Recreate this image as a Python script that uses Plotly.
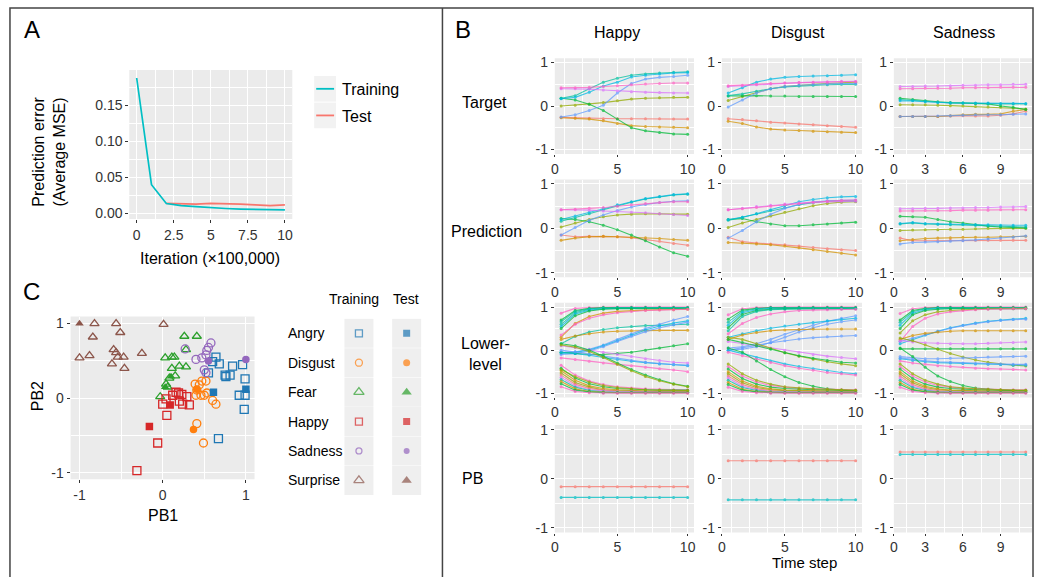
import plotly.graph_objects as go

W, H = 1037, 577
FONT = "Liberation Sans, Arial, sans-serif"
PANEL_BG = "#EBEBEB"
TICK_COLOR = "#333333"

# ---------------- Panel A data ----------------
ITER = [0, 1, 2, 3, 4, 5, 6, 7, 8, 9, 10]
TRAIN_ERR = [0.188, 0.040, 0.014, 0.011, 0.0095, 0.008, 0.007, 0.0062, 0.0056, 0.0052, 0.005]
TEST_ITER = [2, 3, 4, 5, 6, 7, 8, 9, 10]
TEST_ERR = [0.014, 0.013, 0.013, 0.014, 0.014, 0.013, 0.012, 0.011, 0.012]
A_XTICKS = [0, 2.5, 5, 7.5, 10]
A_XTICKTEXT = ["0", "2.5", "5", "7.5", "10"]
A_YTICKS = [0, 0.05, 0.10, 0.15]
A_YTICKTEXT = ["0.00", "0.05", "0.10", "0.15"]

# ---------------- Panel C data ----------------
EMOTIONS = ["Angry", "Disgust", "Fear", "Happy", "Sadness", "Surprise"]
ANGRY_TRAIN_X = [0.64, 0.60, 0.68, 0.84, 0.96, 0.75, 0.81, 0.76, 0.55, 0.99, 0.92, 0.99, 0.98, 0.67]
ANGRY_TRAIN_Y = [0.55, 0.49, 0.46, 0.43, 0.45, 0.31, 0.31, 0.29, 0.34, 0.26, 0.04, 0.04, -0.15, -0.54]
ANGRY_TEST_X = [0.61, 1.00]
ANGRY_TEST_Y = [0.08, 0.12]
DISGUST_TRAIN_X = [0.39, 0.47, 0.52, 0.44, 0.41, 0.40, 0.46, 0.50, 0.53, 0.60, 0.64, 0.41, 0.49]
DISGUST_TRAIN_Y = [0.19, 0.23, 0.23, 0.18, 0.11, 0.04, 0.04, 0.04, 0.07, -0.03, -0.08, -0.34, -0.60]
DISGUST_TEST_X = [0.41, 0.37]
DISGUST_TEST_Y = [0.12, -0.42]
FEAR_TRAIN_X = [0.26, 0.41, 0.28, 0.03, 0.11, 0.14, 0.20, 0.28, 0.11, 0.15, 0.08, 0.04, 0.06, -0.03]
FEAR_TRAIN_Y = [0.83, 0.83, 0.65, 0.54, 0.55, 0.55, 0.43, 0.42, 0.40, 0.30, 0.27, 0.19, 0.15, 0.02]
FEAR_TEST_X = [0.10, 0.03]
FEAR_TEST_Y = [0.29, 0.15]
HAPPY_TRAIN_X = [0.16, 0.19, 0.23, 0.29, 0.12, 0.04, 0.00, 0.20, 0.24, 0.32, 0.05, -0.06, -0.31]
HAPPY_TRAIN_Y = [0.08, 0.07, 0.05, 0.02, 0.04, -0.01, -0.08, -0.04, -0.08, -0.09, -0.23, -0.60, -0.97]
HAPPY_TEST_X = [0.09, -0.16]
HAPPY_TEST_Y = [-0.09, -0.38]
SADNESS_TRAIN_X = [0.58, 0.55, 0.53, 0.52, 0.40, 0.47, 0.50, 0.52, 0.27]
SADNESS_TRAIN_Y = [0.74, 0.68, 0.64, 0.58, 0.52, 0.54, 0.38, 0.34, 0.66]
SADNESS_TEST_X = [0.55, 1.00]
SADNESS_TEST_Y = [0.50, 0.52]
SURPRISE_TRAIN_X = [-0.82, -0.56, 0.01, -0.84, -0.51, -1.00, -0.88, -0.59, -0.56, -0.54, -0.47, -0.61, -0.46, -0.25]
SURPRISE_TRAIN_Y = [1.00, 1.00, 0.99, 0.82, 0.88, 0.54, 0.57, 0.65, 0.61, 0.55, 0.55, 0.46, 0.40, 0.60]
SURPRISE_TEST_X = [-1.00]
SURPRISE_TEST_Y = [1.00]
C_TICKS = [-1, 0, 1]
C_TICKTEXT = ["-1", "0", "1"]

# ---------------- Panel B data ----------------
COLUMNS = ["Happy", "Disgust", "Sadness"]
ROWS = ["Target", "Prediction", "Lower-level", "PB"]
T10 = [1, 2, 3, 4, 5, 6, 7, 8, 9, 10]
T11 = [1, 2, 3, 4, 5, 6, 7, 8, 9, 10, 11]

# order of series: salmon, orange, olive, green, teal, cyan, blue, magenta, pink
HAPPY_TARGET = [
    [-0.26, -0.27, -0.28, -0.29, -0.29, -0.29, -0.29, -0.29, -0.30, -0.30],
    [-0.27, -0.28, -0.30, -0.34, -0.40, -0.45, -0.47, -0.48, -0.49, -0.50],
    [0.00, 0.02, 0.05, 0.08, 0.12, 0.16, 0.18, 0.19, 0.20, 0.20],
    [0.18, 0.14, 0.04, -0.10, -0.30, -0.50, -0.57, -0.61, -0.64, -0.65],
    [0.18, 0.24, 0.40, 0.55, 0.64, 0.71, 0.74, 0.76, 0.78, 0.79],
    [0.17, 0.20, 0.32, 0.46, 0.55, 0.67, 0.71, 0.74, 0.76, 0.77],
    [-0.25, -0.20, -0.10, 0.02, 0.30, 0.52, 0.62, 0.66, 0.68, 0.71],
    [0.40, 0.40, 0.39, 0.37, 0.35, 0.33, 0.32, 0.31, 0.30, 0.30],
    [0.42, 0.42, 0.43, 0.45, 0.47, 0.49, 0.51, 0.52, 0.53, 0.53],
]
DISGUST_TARGET = [
    [-0.29, -0.31, -0.34, -0.37, -0.39, -0.41, -0.43, -0.45, -0.47, -0.49],
    [-0.35, -0.40, -0.48, -0.53, -0.55, -0.56, -0.58, -0.59, -0.60, -0.61],
    [0.13, 0.22, 0.32, 0.40, 0.45, 0.48, 0.50, 0.52, 0.54, 0.55],
    [0.23, 0.24, 0.24, 0.23, 0.23, 0.22, 0.22, 0.22, 0.22, 0.22],
    [0.24, 0.28, 0.34, 0.40, 0.44, 0.46, 0.48, 0.49, 0.50, 0.50],
    [0.30, 0.42, 0.55, 0.62, 0.66, 0.68, 0.69, 0.70, 0.71, 0.72],
    [-0.02, 0.14, 0.30, 0.40, 0.45, 0.48, 0.50, 0.51, 0.52, 0.52],
    [0.45, 0.47, 0.49, 0.51, 0.53, 0.54, 0.55, 0.56, 0.57, 0.57],
    [0.47, 0.48, 0.50, 0.52, 0.53, 0.54, 0.55, 0.55, 0.56, 0.56],
]
SADNESS_TARGET = [
    [-0.24, -0.24, -0.24, -0.24, -0.23, -0.22, -0.23, -0.23, -0.21, -0.18, -0.12],
    [-0.24, -0.24, -0.24, -0.24, -0.22, -0.20, -0.19, -0.19, -0.18, -0.12, -0.08],
    [0.03, 0.03, 0.03, 0.02, 0.01, 0.00, -0.01, -0.02, -0.03, -0.05, -0.07],
    [0.18, 0.15, 0.12, 0.10, 0.08, 0.07, 0.06, 0.05, 0.00, -0.03, -0.08],
    [0.15, 0.13, 0.11, 0.09, 0.07, 0.07, 0.06, 0.06, 0.05, 0.05, 0.05],
    [0.12, 0.12, 0.10, 0.08, 0.07, 0.07, 0.07, 0.07, 0.06, 0.06, 0.06],
    [-0.24, -0.24, -0.24, -0.23, -0.22, -0.21, -0.20, -0.20, -0.20, -0.19, -0.18],
    [0.45, 0.45, 0.46, 0.46, 0.47, 0.48, 0.48, 0.49, 0.49, 0.50, 0.50],
    [0.40, 0.40, 0.41, 0.41, 0.41, 0.42, 0.42, 0.42, 0.43, 0.43, 0.43],
]
HAPPY_PRED = [
    [-0.15, -0.19, -0.18, -0.18, -0.19, -0.21, -0.25, -0.29, -0.34, -0.38],
    [-0.27, -0.22, -0.19, -0.18, -0.19, -0.20, -0.21, -0.23, -0.25, -0.27],
    [0.03, 0.12, 0.20, 0.26, 0.30, 0.32, 0.33, 0.33, 0.32, 0.32],
    [0.22, 0.20, 0.15, 0.07, -0.03, -0.15, -0.28, -0.42, -0.55, -0.63],
    [0.16, 0.24, 0.33, 0.42, 0.51, 0.59, 0.66, 0.71, 0.75, 0.77],
    [0.20, 0.28, 0.36, 0.45, 0.53, 0.60, 0.67, 0.72, 0.76, 0.78],
    [-0.15, 0.02, 0.18, 0.30, 0.40, 0.48, 0.54, 0.58, 0.61, 0.62],
    [0.42, 0.42, 0.41, 0.39, 0.38, 0.36, 0.35, 0.33, 0.31, 0.29],
    [0.42, 0.43, 0.45, 0.47, 0.50, 0.53, 0.56, 0.58, 0.60, 0.60],
]
DISGUST_PRED = [
    [-0.20, -0.30, -0.33, -0.35, -0.37, -0.40, -0.43, -0.46, -0.48, -0.50],
    [-0.32, -0.33, -0.35, -0.37, -0.40, -0.44, -0.48, -0.52, -0.56, -0.60],
    [0.02, 0.12, 0.20, 0.28, 0.36, 0.44, 0.51, 0.56, 0.59, 0.60],
    [0.20, 0.22, 0.15, 0.10, 0.06, 0.06, 0.08, 0.10, 0.12, 0.14],
    [0.18, 0.25, 0.33, 0.40, 0.47, 0.53, 0.58, 0.61, 0.62, 0.62],
    [0.20, 0.25, 0.33, 0.42, 0.52, 0.60, 0.65, 0.69, 0.71, 0.72],
    [-0.22, -0.05, 0.15, 0.32, 0.45, 0.54, 0.59, 0.62, 0.63, 0.64],
    [0.42, 0.45, 0.49, 0.52, 0.55, 0.57, 0.59, 0.60, 0.61, 0.61],
    [0.42, 0.44, 0.47, 0.50, 0.53, 0.56, 0.59, 0.61, 0.63, 0.64],
]
SADNESS_PRED = [
    [-0.22, -0.28, -0.28, -0.28, -0.27, -0.27, -0.27, -0.27, -0.27, -0.27, -0.27],
    [-0.28, -0.25, -0.23, -0.22, -0.21, -0.20, -0.20, -0.20, -0.19, -0.19, -0.18],
    [-0.05, -0.04, -0.03, -0.03, -0.02, -0.02, -0.01, 0.00, 0.00, 0.00, 0.00],
    [0.27, 0.26, 0.25, 0.20, 0.15, 0.12, 0.08, 0.05, 0.03, 0.02, 0.01],
    [0.10, 0.12, 0.10, 0.09, 0.08, 0.08, 0.07, 0.06, 0.05, 0.04, 0.03],
    [0.11, 0.13, 0.11, 0.10, 0.10, 0.09, 0.08, 0.08, 0.07, 0.07, 0.07],
    [-0.35, -0.32, -0.31, -0.30, -0.29, -0.28, -0.26, -0.24, -0.22, -0.20, -0.17],
    [0.44, 0.44, 0.45, 0.45, 0.46, 0.46, 0.47, 0.47, 0.48, 0.48, 0.49],
    [0.39, 0.39, 0.40, 0.40, 0.40, 0.41, 0.41, 0.41, 0.42, 0.42, 0.42],
]

HAPPY_LOWER_SERIES = [8, 3, 4, 4, 5, 3, 1, 8, 4, 1, 6, 5, 6, 3, 7, 5, 6, 8, 3, 2,
                      8, 3, 1, 2, 0, 7, 4, 1, 3, 8, 2]
HAPPY_LOWER = [
    [0.86, 0.97, 0.99, 1.00, 1.00, 1.00, 1.00, 1.00, 1.00, 1.00],
    [0.70, 0.92, 0.97, 0.99, 0.99, 0.99, 0.99, 0.99, 0.99, 0.99],
    [0.66, 0.90, 0.96, 0.98, 0.98, 0.98, 0.98, 0.98, 0.98, 0.98],
    [0.60, 0.87, 0.95, 0.97, 0.98, 0.98, 0.98, 0.98, 0.98, 0.98],
    [0.55, 0.84, 0.93, 0.96, 0.97, 0.97, 0.97, 0.97, 0.97, 0.97],
    [0.50, 0.80, 0.91, 0.95, 0.96, 0.96, 0.96, 0.96, 0.96, 0.96],
    [0.30, 0.62, 0.78, 0.86, 0.90, 0.92, 0.93, 0.94, 0.94, 0.95],
    [0.35, 0.60, 0.74, 0.82, 0.87, 0.90, 0.92, 0.93, 0.94, 0.95],
    [0.15, 0.32, 0.42, 0.48, 0.52, 0.55, 0.57, 0.58, 0.59, 0.60],
    [0.25, 0.33, 0.38, 0.42, 0.44, 0.45, 0.46, 0.46, 0.46, 0.46],
    [-0.05, -0.04, 0.02, 0.12, 0.25, 0.38, 0.50, 0.60, 0.70, 0.78],
    [-0.08, -0.05, 0.00, 0.10, 0.22, 0.35, 0.47, 0.56, 0.63, 0.68],
    [-0.10, -0.08, -0.02, 0.08, 0.20, 0.32, 0.43, 0.52, 0.59, 0.65],
    [-0.05, -0.08, -0.10, -0.10, -0.08, -0.05, 0.00, 0.05, 0.10, 0.15],
    [0.10, 0.06, 0.01, -0.05, -0.10, -0.15, -0.20, -0.24, -0.28, -0.30],
    [-0.05, -0.08, -0.12, -0.17, -0.22, -0.26, -0.29, -0.32, -0.34, -0.36],
    [0.00, -0.04, -0.09, -0.14, -0.19, -0.24, -0.28, -0.31, -0.33, -0.35],
    [-0.18, -0.22, -0.26, -0.30, -0.33, -0.36, -0.40, -0.43, -0.46, -0.50],
    [0.15, 0.10, 0.00, -0.14, -0.30, -0.45, -0.58, -0.69, -0.78, -0.84],
    [0.12, 0.07, -0.03, -0.17, -0.33, -0.48, -0.61, -0.71, -0.79, -0.85],
    [-0.35, -0.58, -0.72, -0.80, -0.85, -0.88, -0.90, -0.91, -0.92, -0.92],
    [-0.42, -0.65, -0.78, -0.85, -0.89, -0.91, -0.92, -0.93, -0.93, -0.93],
    [-0.48, -0.70, -0.83, -0.89, -0.92, -0.94, -0.95, -0.95, -0.95, -0.95],
    [-0.53, -0.75, -0.86, -0.92, -0.94, -0.95, -0.96, -0.96, -0.96, -0.96],
    [-0.58, -0.79, -0.89, -0.93, -0.95, -0.96, -0.97, -0.97, -0.97, -0.97],
    [-0.63, -0.83, -0.92, -0.95, -0.97, -0.97, -0.98, -0.98, -0.98, -0.98],
    [-0.68, -0.86, -0.94, -0.97, -0.98, -0.98, -0.98, -0.98, -0.98, -0.98],
    [-0.73, -0.90, -0.96, -0.98, -0.99, -0.99, -0.99, -0.99, -0.99, -0.99],
    [-0.78, -0.93, -0.97, -0.99, -0.99, -0.99, -0.99, -0.99, -0.99, -0.99],
    [-0.85, -0.96, -0.99, -1.00, -1.00, -1.00, -1.00, -1.00, -1.00, -1.00],
    [-0.45, -0.62, -0.74, -0.82, -0.87, -0.90, -0.92, -0.93, -0.94, -0.94],
]
DISGUST_LOWER_SERIES = [8, 3, 4, 5, 3, 4, 8, 6, 5, 6, 1, 6, 7, 2, 3, 5, 8, 3,
                        8, 3, 1, 2, 0, 7, 4, 1, 3, 8, 2]
DISGUST_LOWER = [
    [0.82, 0.96, 0.99, 1.00, 1.00, 1.00, 1.00, 1.00, 1.00, 1.00],
    [0.72, 0.93, 0.97, 0.99, 0.99, 0.99, 0.99, 0.99, 0.99, 0.99],
    [0.65, 0.90, 0.96, 0.98, 0.98, 0.98, 0.98, 0.98, 0.98, 0.98],
    [0.58, 0.87, 0.94, 0.97, 0.97, 0.97, 0.97, 0.97, 0.97, 0.97],
    [0.52, 0.83, 0.92, 0.95, 0.96, 0.96, 0.96, 0.96, 0.96, 0.96],
    [0.45, 0.78, 0.90, 0.94, 0.95, 0.96, 0.96, 0.96, 0.96, 0.96],
    [0.38, 0.62, 0.76, 0.84, 0.89, 0.92, 0.93, 0.94, 0.95, 0.95],
    [0.05, 0.08, 0.15, 0.25, 0.37, 0.48, 0.58, 0.67, 0.74, 0.80],
    [0.30, 0.38, 0.45, 0.51, 0.56, 0.60, 0.64, 0.68, 0.71, 0.74],
    [0.00, 0.02, 0.08, 0.18, 0.30, 0.42, 0.52, 0.60, 0.66, 0.70],
    [0.25, 0.35, 0.41, 0.45, 0.47, 0.48, 0.49, 0.49, 0.49, 0.49],
    [0.00, 0.05, 0.11, 0.17, 0.22, 0.26, 0.29, 0.31, 0.33, 0.34],
    [0.20, 0.15, 0.10, 0.05, 0.00, -0.05, -0.10, -0.14, -0.17, -0.20],
    [0.30, 0.25, 0.15, 0.04, -0.06, -0.14, -0.21, -0.27, -0.32, -0.36],
    [0.25, 0.18, 0.10, 0.02, -0.06, -0.13, -0.19, -0.24, -0.28, -0.30],
    [0.00, -0.08, -0.17, -0.25, -0.32, -0.38, -0.43, -0.48, -0.52, -0.55],
    [-0.05, -0.13, -0.21, -0.29, -0.36, -0.42, -0.47, -0.52, -0.55, -0.58],
    [0.05, -0.05, -0.25, -0.45, -0.62, -0.75, -0.84, -0.90, -0.93, -0.95],
    [-0.38, -0.60, -0.74, -0.82, -0.86, -0.89, -0.90, -0.91, -0.92, -0.92],
    [-0.44, -0.66, -0.79, -0.86, -0.89, -0.91, -0.92, -0.93, -0.93, -0.94],
    [-0.50, -0.72, -0.84, -0.90, -0.93, -0.94, -0.95, -0.95, -0.95, -0.95],
    [-0.55, -0.76, -0.87, -0.92, -0.94, -0.95, -0.96, -0.96, -0.96, -0.96],
    [-0.60, -0.80, -0.90, -0.94, -0.96, -0.97, -0.97, -0.97, -0.97, -0.97],
    [-0.65, -0.84, -0.92, -0.96, -0.97, -0.98, -0.98, -0.98, -0.98, -0.98],
    [-0.70, -0.87, -0.94, -0.97, -0.98, -0.98, -0.98, -0.98, -0.98, -0.98],
    [-0.75, -0.91, -0.96, -0.98, -0.99, -0.99, -0.99, -0.99, -0.99, -0.99],
    [-0.80, -0.93, -0.97, -0.99, -0.99, -0.99, -0.99, -0.99, -0.99, -0.99],
    [-0.86, -0.96, -0.99, -1.00, -1.00, -1.00, -1.00, -1.00, -1.00, -1.00],
    [-0.32, -0.55, -0.70, -0.79, -0.85, -0.88, -0.90, -0.91, -0.92, -0.93],
]
SADNESS_LOWER_SERIES = [8, 3, 4, 5, 3, 2, 8, 5, 6, 1, 7, 3, 2, 6, 5, 8, 6, 3,
                        8, 3, 1, 2, 0, 7, 4, 1, 3, 8, 2]
SADNESS_LOWER = [
    [0.85, 0.96, 0.99, 1.00, 1.00, 1.00, 1.00, 1.00, 1.00, 1.00, 1.00],
    [0.70, 0.92, 0.97, 0.99, 0.99, 0.99, 0.99, 0.99, 0.99, 0.99, 0.99],
    [0.65, 0.89, 0.96, 0.98, 0.98, 0.98, 0.98, 0.98, 0.98, 0.98, 0.98],
    [0.58, 0.86, 0.94, 0.97, 0.97, 0.97, 0.97, 0.97, 0.97, 0.97, 0.97],
    [0.50, 0.82, 0.92, 0.95, 0.96, 0.96, 0.96, 0.96, 0.96, 0.96, 0.96],
    [0.40, 0.68, 0.82, 0.89, 0.92, 0.94, 0.95, 0.96, 0.96, 0.97, 0.97],
    [0.20, 0.55, 0.74, 0.84, 0.89, 0.92, 0.94, 0.95, 0.95, 0.96, 0.96],
    [0.15, 0.25, 0.35, 0.44, 0.52, 0.58, 0.63, 0.67, 0.70, 0.72, 0.74],
    [0.20, 0.28, 0.36, 0.44, 0.51, 0.57, 0.62, 0.66, 0.69, 0.71, 0.72],
    [0.25, 0.34, 0.39, 0.42, 0.44, 0.45, 0.45, 0.45, 0.45, 0.45, 0.45],
    [0.22, 0.19, 0.17, 0.16, 0.15, 0.15, 0.15, 0.16, 0.17, 0.18, 0.19],
    [0.03, 0.03, 0.03, 0.03, 0.03, 0.03, 0.03, 0.03, 0.03, 0.03, 0.03],
    [0.28, 0.22, 0.12, 0.02, -0.08, -0.16, -0.23, -0.28, -0.32, -0.35, -0.37],
    [-0.15, -0.18, -0.20, -0.20, -0.19, -0.18, -0.17, -0.16, -0.15, -0.15, -0.14],
    [-0.20, -0.24, -0.27, -0.29, -0.30, -0.31, -0.32, -0.33, -0.34, -0.35, -0.35],
    [-0.25, -0.30, -0.33, -0.36, -0.38, -0.40, -0.42, -0.43, -0.44, -0.45, -0.46],
    [-0.18, -0.22, -0.25, -0.27, -0.28, -0.30, -0.31, -0.32, -0.32, -0.33, -0.33],
    [0.05, -0.15, -0.40, -0.60, -0.73, -0.82, -0.88, -0.91, -0.93, -0.94, -0.95],
    [-0.38, -0.60, -0.74, -0.82, -0.86, -0.89, -0.90, -0.91, -0.92, -0.92, -0.92],
    [-0.44, -0.66, -0.79, -0.86, -0.89, -0.91, -0.92, -0.93, -0.93, -0.94, -0.94],
    [-0.50, -0.72, -0.84, -0.90, -0.93, -0.94, -0.95, -0.95, -0.95, -0.95, -0.95],
    [-0.55, -0.76, -0.87, -0.92, -0.94, -0.95, -0.96, -0.96, -0.96, -0.96, -0.96],
    [-0.60, -0.80, -0.90, -0.94, -0.96, -0.97, -0.97, -0.97, -0.97, -0.97, -0.97],
    [-0.65, -0.84, -0.92, -0.96, -0.97, -0.98, -0.98, -0.98, -0.98, -0.98, -0.98],
    [-0.70, -0.87, -0.94, -0.97, -0.98, -0.98, -0.98, -0.98, -0.98, -0.98, -0.98],
    [-0.75, -0.91, -0.96, -0.98, -0.99, -0.99, -0.99, -0.99, -0.99, -0.99, -0.99],
    [-0.80, -0.93, -0.97, -0.99, -0.99, -0.99, -0.99, -0.99, -0.99, -0.99, -0.99],
    [-0.86, -0.96, -0.99, -1.00, -1.00, -1.00, -1.00, -1.00, -1.00, -1.00, -1.00],
    [-0.32, -0.55, -0.70, -0.79, -0.85, -0.88, -0.90, -0.91, -0.92, -0.93, -0.93],
]
HAPPY_PB = [
    [-0.16, -0.16, -0.16, -0.16, -0.16, -0.16, -0.16, -0.16, -0.16, -0.16],
    [-0.38, -0.38, -0.38, -0.38, -0.38, -0.38, -0.38, -0.38, -0.38, -0.38],
]
DISGUST_PB = [
    [0.37, 0.37, 0.37, 0.37, 0.37, 0.37, 0.37, 0.37, 0.37, 0.37],
    [-0.43, -0.43, -0.43, -0.43, -0.43, -0.43, -0.43, -0.43, -0.43, -0.43],
]
SADNESS_PB = [
    [0.55, 0.55, 0.55, 0.55, 0.55, 0.55, 0.55, 0.55, 0.55, 0.55, 0.55],
    [0.50, 0.50, 0.50, 0.50, 0.50, 0.50, 0.50, 0.50, 0.50, 0.50, 0.50],
]
B_YTICKS = [-1, 0, 1]
B_YTICKTEXT = ["-1", "0", "1"]
B_XTICKTEXT_10 = ["0", "5", "10"]
B_XTICKTEXT_11 = ["0", "3", "6", "9"]

# ---------------- styling ----------------
HUE9 = ["#F8766D", "#D39200", "#93AA00", "#00BA38", "#00C19F",
        "#00B9E3", "#619CFF", "#DB72FB", "#FF61C3"]
HUE2 = ["#F8766D", "#00BFC4"]
CAT10 = {"Angry": "#1f77b4", "Disgust": "#ff7f0e", "Fear": "#2ca02c",
         "Happy": "#d62728", "Sadness": "#9467bd", "Surprise": "#8c564b"}
OPEN_SYM = {"Angry": "square-open", "Disgust": "circle-open", "Fear": "triangle-up-open",
            "Happy": "square-open", "Sadness": "circle-open", "Surprise": "triangle-up-open"}
FILL_SYM = {"Angry": "square", "Disgust": "circle", "Fear": "triangle-up",
            "Happy": "square", "Sadness": "circle", "Surprise": "triangle-up"}


def dx(a, b):
    return [a / W, b / W]


def dy(top, bottom):
    return [1 - bottom / H, 1 - top / H]


fig = go.Figure()
layout = dict(
    width=W, height=H, margin=dict(l=0, r=0, t=0, b=0),
    paper_bgcolor="white", plot_bgcolor="rgba(0,0,0,0)",
    showlegend=False, hovermode=False,
    font=dict(family=FONT, color="black"),
)
shapes = []
annotations = []


def panel_bg(xname):
    shapes.append(dict(type="rect", xref=f"{xname} domain", yref=f"{xname.replace('x', 'y')} domain",
                       x0=0, x1=1, y0=0, y1=1, fillcolor=PANEL_BG, line=dict(width=0), layer="below"))


def ann(text, x, y, size, xanchor="center", angle=0, color="black"):
    annotations.append(dict(text=text, x=x / W, y=1 - y / H, xref="paper", yref="paper",
                            showarrow=False, xanchor=xanchor, yanchor="middle",
                            textangle=angle, font=dict(size=size, color=color, family=FONT)))


def axis_common(domain, rng, tickvals, ticktext, minor_vals, size=13, anchor=None,
                major_grid=True, ticklen=3):
    d = dict(domain=domain, range=rng, tickmode="array", tickvals=tickvals, ticktext=ticktext,
             showgrid=major_grid, gridcolor="white", gridwidth=1.3, zeroline=False, showline=False,
             ticks="outside", ticklen=ticklen, tickwidth=1, tickcolor=TICK_COLOR,
             tickfont=dict(size=size, color=TICK_COLOR, family=FONT),
             minor=dict(tickmode="array", tickvals=minor_vals, showgrid=True,
                        gridcolor="white", gridwidth=0.7, ticks=""))
    if anchor:
        d["anchor"] = anchor
    return d


# ---------------- Panel A ----------------
fig.add_trace(go.Scatter(x=TEST_ITER, y=TEST_ERR, xaxis="x", yaxis="y", mode="lines",
                         line=dict(color=HUE2[0], width=1.7)))
fig.add_trace(go.Scatter(x=ITER, y=TRAIN_ERR, xaxis="x", yaxis="y", mode="lines",
                         line=dict(color=HUE2[1], width=1.7)))
layout["xaxis"] = axis_common(dx(126, 290), [-0.5, 10.5], A_XTICKS, A_XTICKTEXT,
                              [1.25, 3.75, 6.25, 8.75], size=14, anchor="y")
layout["yaxis"] = axis_common(dy(67, 218), [-0.0075, 0.199], A_YTICKS, A_YTICKTEXT,
                              [0.025, 0.075, 0.125, 0.175], size=14, anchor="x")
panel_bg("x")
ann("A", 28, 26, 24)
ann("Prediction error<br>(Average MSE)", 45, 150, 16, angle=-90)
ann("Iteration (×100,000)", 207, 258, 16)
# legend for A
for i, (lab, col) in enumerate([("Training", HUE2[1]), ("Test", HUE2[0])]):
    top = 73 + i * 27
    shapes.append(dict(type="rect", xref="paper", yref="paper", x0=312 / W, x1=334 / W,
                       y0=1 - (top + 26) / H, y1=1 - top / H, fillcolor="#F2F2F2",
                       line=dict(width=0), layer="below"))
    shapes.append(dict(type="line", xref="paper", yref="paper", x0=314 / W, x1=332 / W,
                       y0=1 - (top + 13) / H, y1=1 - (top + 13) / H, line=dict(color=col, width=1.8)))
    ann(lab, 338, top + 14, 16, xanchor="left")

# ---------------- Panel C ----------------
C_DATA = {
    "Angry": (ANGRY_TRAIN_X, ANGRY_TRAIN_Y, ANGRY_TEST_X, ANGRY_TEST_Y),
    "Disgust": (DISGUST_TRAIN_X, DISGUST_TRAIN_Y, DISGUST_TEST_X, DISGUST_TEST_Y),
    "Fear": (FEAR_TRAIN_X, FEAR_TRAIN_Y, FEAR_TEST_X, FEAR_TEST_Y),
    "Happy": (HAPPY_TRAIN_X, HAPPY_TRAIN_Y, HAPPY_TEST_X, HAPPY_TEST_Y),
    "Sadness": (SADNESS_TRAIN_X, SADNESS_TRAIN_Y, SADNESS_TEST_X, SADNESS_TEST_Y),
    "Surprise": (SURPRISE_TRAIN_X, SURPRISE_TRAIN_Y, SURPRISE_TEST_X, SURPRISE_TEST_Y),
}
for emo in EMOTIONS:
    trx, tr_y, tex, tey = C_DATA[emo]
    fig.add_trace(go.Scatter(x=trx, y=tr_y, xaxis="x2", yaxis="y2", mode="markers",
                             marker=dict(symbol=OPEN_SYM[emo], size=8, color=CAT10[emo],
                                         line=dict(width=1.3, color=CAT10[emo]))))
for emo in EMOTIONS:
    trx, tr_y, tex, tey = C_DATA[emo]
    fig.add_trace(go.Scatter(x=tex, y=tey, xaxis="x2", yaxis="y2", mode="markers",
                             marker=dict(symbol=FILL_SYM[emo], size=7.5, color=CAT10[emo],
                                         line=dict(width=0))))
layout["xaxis2"] = axis_common(dx(67, 252), [-1.107, 1.104], C_TICKS, C_TICKTEXT,
                               [-0.5, 0.5], size=14, anchor="y2")
layout["yaxis2"] = axis_common(dy(317, 482), [-1.086, 1.093], C_TICKS, C_TICKTEXT,
                               [-0.5, 0.5], size=14, anchor="x2")
panel_bg("x2")
ann("C", 28, 292, 24)
ann("PB1", 160, 519, 16)
ann("PB2", 34, 398, 16, angle=-90)

# legend for C (keys drawn as markers on a hidden axis)
LEG_COLS = ["Training", "Test"]
fig.add_trace(go.Scatter(x=[c for c in LEG_COLS for _ in EMOTIONS],
                         y=[e for _ in LEG_COLS for e in EMOTIONS],
                         xaxis="x3", yaxis="y3", mode="markers",
                         marker=dict(symbol="square", size=29, color="#EFEFEF", line=dict(width=0))))
fig.add_trace(go.Scatter(x=["Training"] * len(EMOTIONS), y=EMOTIONS, xaxis="x3", yaxis="y3",
                         mode="markers",
                         marker=dict(symbol=[OPEN_SYM[e] for e in EMOTIONS],
                                     size=[7, 7, 9, 7, 6, 9],
                                     color=[CAT10[e] for e in EMOTIONS],
                                     line=dict(width=1.3, color=[CAT10[e] for e in EMOTIONS]))))
fig.add_trace(go.Scatter(x=["Test"] * len(EMOTIONS), y=EMOTIONS, xaxis="x3", yaxis="y3",
                         mode="markers",
                         marker=dict(symbol=[FILL_SYM[e] for e in EMOTIONS],
                                     size=[7, 7, 9, 7, 6, 9],
                                     color=[CAT10[e] for e in EMOTIONS], line=dict(width=0))))
layout["xaxis3"] = dict(domain=dx(333, 429), range=[-0.5, 1.5], type="category",
                        categoryorder="array", categoryarray=LEG_COLS, visible=False,
                        showgrid=False, zeroline=False, anchor="y3")
layout["yaxis3"] = dict(domain=dy(319, 498), range=[5.5, -0.5], type="category",
                        categoryorder="array", categoryarray=EMOTIONS, visible=False,
                        showgrid=False, zeroline=False, anchor="x3")
ann("Training", 352, 299, 14)
ann("Test", 404, 299, 14)
for i, emo in enumerate(EMOTIONS):
    ann(emo, 284, 334 + i * 29.8, 14, xanchor="left")

# ---------------- Panel B ----------------
COL_PX = [(554, 694), (722, 863), (895, 1034)]
ROW_PX = [(55, 152), (178, 277), (303, 399), (427, 536)]
PANELS = {
    (0, 0): (HAPPY_TARGET, None), (0, 1): (DISGUST_TARGET, None), (0, 2): (SADNESS_TARGET, None),
    (1, 0): (HAPPY_PRED, None), (1, 1): (DISGUST_PRED, None), (1, 2): (SADNESS_PRED, None),
    (2, 0): (HAPPY_LOWER, HAPPY_LOWER_SERIES), (2, 1): (DISGUST_LOWER, DISGUST_LOWER_SERIES),
    (2, 2): (SADNESS_LOWER, SADNESS_LOWER_SERIES),
    (3, 0): (HAPPY_PB, "pb"), (3, 1): (DISGUST_PB, "pb"), (3, 2): (SADNESS_PB, "pb"),
}
for r in range(4):
    for c in range(3):
        k = 4 + r * 3 + c
        xn, yn = f"x{k}", f"y{k}"
        lines, series = PANELS[(r, c)]
        tt = T11 if c == 2 else T10
        for j, vals in enumerate(lines):
            if series is None:
                col = HUE9[j]
            elif series == "pb":
                col = HUE2[j]
            else:
                col = HUE9[series[j]]
            fig.add_trace(go.Scatter(x=tt, y=vals, xaxis=xn, yaxis=yn, mode="lines+markers",
                                     opacity=0.75,
                                     line=dict(color=col, width=1.1),
                                     marker=dict(size=3, color=col)))
        if c == 2:
            xr = [0.5, 11.5]
            xt = [0.5, 3, 6, 9]
            xtt = B_XTICKTEXT_11
            xminor = [1.5, 3, 4.5, 6, 7.5, 9, 10.5]
        else:
            xr = [0.55, 10.45]
            xt = [0.55, 5, 10]
            xtt = B_XTICKTEXT_10
            xminor = [1.25, 2.5, 3.75, 5, 6.25, 7.5, 8.75, 10]
        xa = axis_common(dx(*COL_PX[c]), xr, xt, xtt, xminor, size=14, anchor=yn,
                         major_grid=False, ticklen=2)
        ya = axis_common(dy(*ROW_PX[r]), [-1.1, 1.1], B_YTICKS, B_YTICKTEXT, [-0.5, 0.5],
                         size=14, anchor=xn)
        layout[f"xaxis{k}"] = xa
        layout[f"yaxis{k}"] = ya
        panel_bg(xn)

ann("B", 462, 26, 24)
ann("Happy", 617, 29, 16)
ann("Disgust", 799, 29, 16)
ann("Sadness", 966, 29, 16)
ann("Target", 483, 100, 16)
ann("Prediction", 485, 231, 16)
ann("Lower-<br>level", 458, 355, 16, xanchor="left")
ann("PB", 459, 481, 16, xanchor="left")
ann("Time step", 805, 566, 15)

# frame lines
shapes.append(dict(type="rect", xref="paper", yref="paper", x0=6 / W, x1=1035 / W,
                   y0=-0.01, y1=1 - 4 / H, line=dict(color="#444444", width=1.5),
                   fillcolor="rgba(0,0,0,0)", layer="above"))
shapes.append(dict(type="line", xref="paper", yref="paper", x0=441 / W, x1=441 / W,
                   y0=-0.01, y1=1 - 4 / H, line=dict(color="#444444", width=1.5)))

layout["shapes"] = shapes
layout["annotations"] = annotations
fig.update_layout(**layout)
fig.write_html("out.html", config={"displayModeBar": False},
               post_script="document.body.style.margin='0';document.body.style.padding='0';"
                           "document.body.style.overflow='hidden';")
